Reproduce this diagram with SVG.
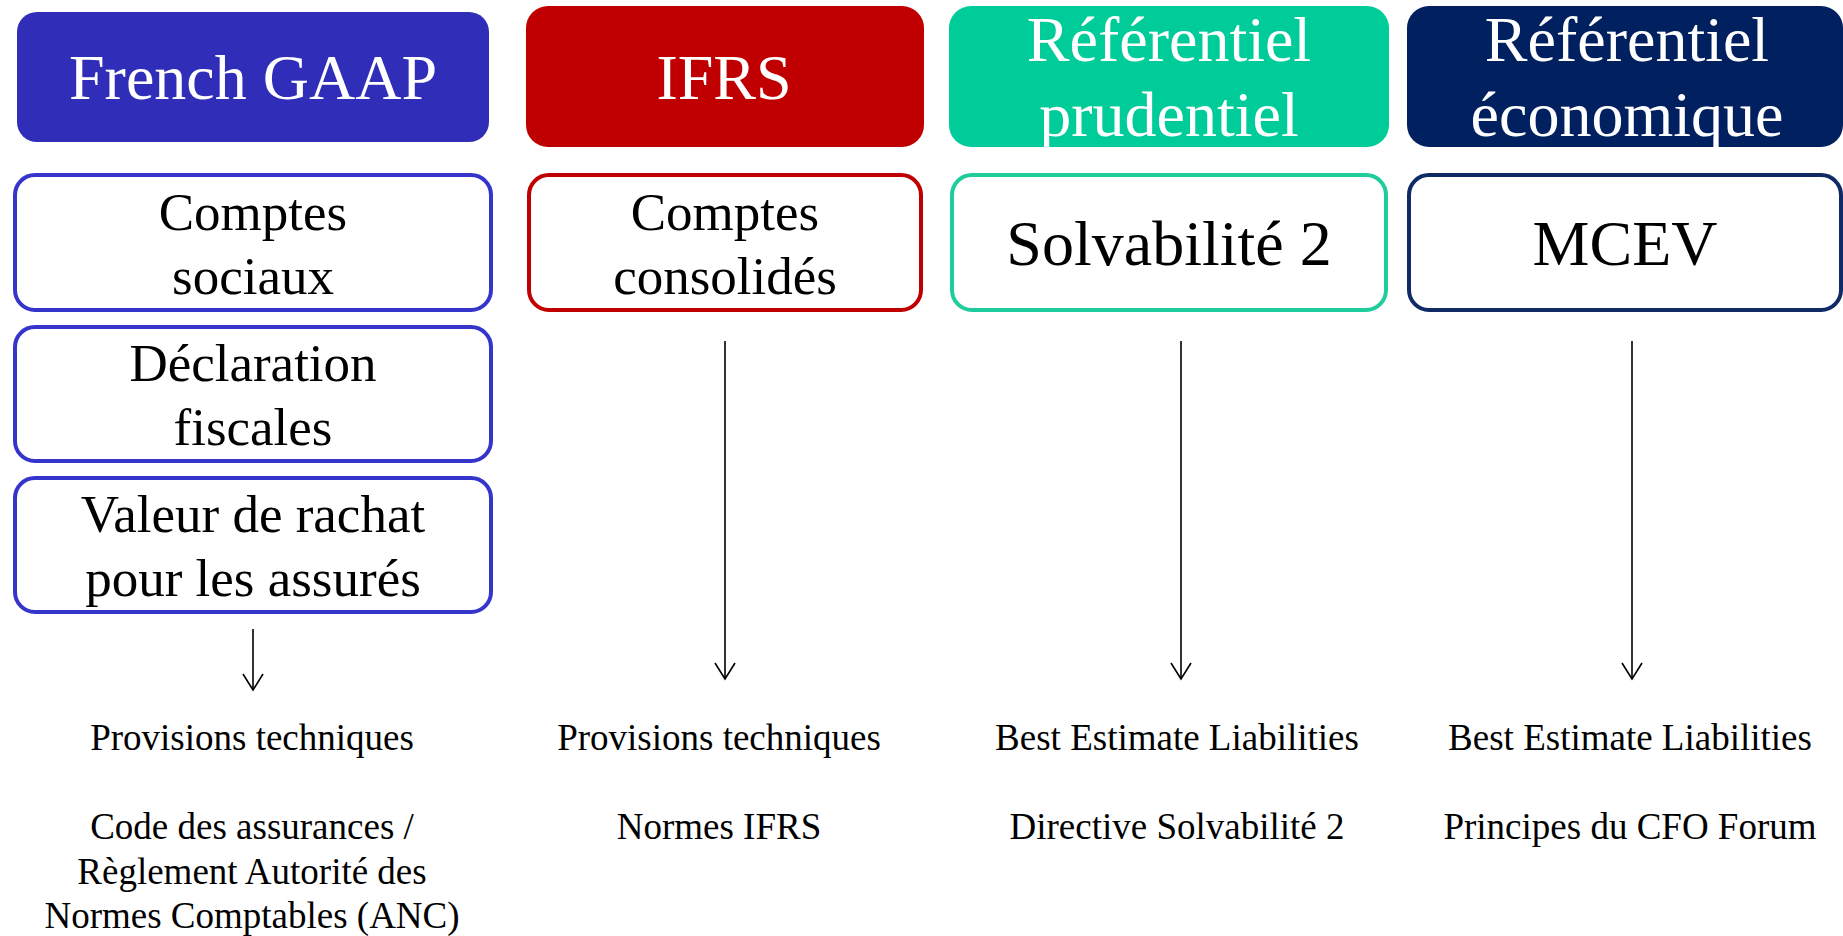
<svg xmlns="http://www.w3.org/2000/svg" width="1843" height="936" viewBox="0 0 1843 936">
<defs>
<style>
.hdr{font-family:'Liberation Serif',serif;font-size:64px;fill:#ffffff;text-anchor:middle}
.box{fill:#ffffff;stroke-width:4}
.bt{font-family:'Liberation Serif',serif;font-size:53px;fill:#000000;text-anchor:middle}
.bt64{font-family:'Liberation Serif',serif;font-size:64px;fill:#000000;text-anchor:middle}
.lab{font-family:'Liberation Serif',serif;font-size:37px;fill:#000000;text-anchor:middle}
.arr{stroke:#000000;stroke-width:1.6;fill:none}
</style>
<marker id="ah" markerUnits="userSpaceOnUse" markerWidth="20" markerHeight="24" viewBox="0 0 20 24" refX="17" refY="12" orient="auto">
<path d="M1,2 L17,12 L1,22" fill="none" stroke="#000000" stroke-width="1.6"/>
</marker>
</defs>
<rect width="1843" height="936" fill="#ffffff"/>

<g id="gaap-header">
<rect x="17" y="12" width="472" height="130" rx="20" fill="#302EB8"/>
<text class="hdr" x="253" y="99">French GAAP</text>
</g>
<g id="ifrs-header">
<rect x="526" y="6" width="398" height="141" rx="22" fill="#C00000"/>
<text class="hdr" x="724" y="99">IFRS</text>
</g>
<g id="prudentiel-header">
<rect x="949" y="6" width="440" height="141" rx="22" fill="#00CC99"/>
<text class="hdr" x="1169" y="61">Référentiel</text>
<text class="hdr" x="1169" y="136">prudentiel</text>
</g>
<g id="economique-header">
<rect x="1407" y="6" width="436" height="141" rx="22" fill="#002060"/>
<text class="hdr" x="1627" y="61">Référentiel</text>
<text class="hdr" x="1627" y="136">économique</text>
</g>

<g id="comptes-sociaux">
<rect class="box" x="15" y="175" width="476" height="135" rx="20" stroke="#3535CC"/>
<text class="bt" x="253" y="230">Comptes</text>
<text class="bt" x="253" y="294">sociaux</text>
</g>
<g id="declaration-fiscales">
<rect class="box" x="15" y="327" width="476" height="134" rx="20" stroke="#3535CC"/>
<text class="bt" x="253" y="381">Déclaration</text>
<text class="bt" x="253" y="445">fiscales</text>
</g>
<g id="valeur-rachat">
<rect class="box" x="15" y="478" width="476" height="134" rx="20" stroke="#3535CC"/>
<text class="bt" x="253" y="532">Valeur de rachat</text>
<text class="bt" x="253" y="596">pour les assurés</text>
</g>
<g id="comptes-consolides">
<rect class="box" x="529" y="175" width="392" height="135" rx="20" stroke="#C00000"/>
<text class="bt" x="725" y="230">Comptes</text>
<text class="bt" x="725" y="294">consolidés</text>
</g>
<g id="solvabilite-2">
<rect class="box" x="952" y="175" width="434" height="135" rx="20" stroke="#1FCC9C"/>
<text class="bt64" x="1169" y="265">Solvabilité 2</text>
</g>
<g id="mcev">
<rect class="box" x="1409" y="175" width="432" height="135" rx="20" stroke="#102A66"/>
<text class="bt64" x="1625" y="265">MCEV</text>
</g>

<g id="connectors">
<line class="arr" x1="253" y1="629" x2="253" y2="690" marker-end="url(#ah)"/>
<line class="arr" x1="725" y1="341" x2="725" y2="679" marker-end="url(#ah)"/>
<line class="arr" x1="1181" y1="341" x2="1181" y2="679" marker-end="url(#ah)"/>
<line class="arr" x1="1632" y1="341" x2="1632" y2="679" marker-end="url(#ah)"/>
</g>

<g id="gaap-labels">
<text class="lab" x="252" y="750">Provisions techniques</text>
<text class="lab" x="252" y="839">Code des assurances /</text>
<text class="lab" x="252" y="884">Règlement Autorité des</text>
<text class="lab" x="252" y="928">Normes Comptables (ANC)</text>
</g>
<g id="ifrs-labels">
<text class="lab" x="719" y="750">Provisions techniques</text>
<text class="lab" x="719" y="839">Normes IFRS</text>
</g>
<g id="prudentiel-labels">
<text class="lab" x="1177" y="750">Best Estimate Liabilities</text>
<text class="lab" x="1177" y="839">Directive Solvabilité 2</text>
</g>
<g id="economique-labels">
<text class="lab" x="1630" y="750">Best Estimate Liabilities</text>
<text class="lab" x="1630" y="839">Principes du CFO Forum</text>
</g>
</svg>
